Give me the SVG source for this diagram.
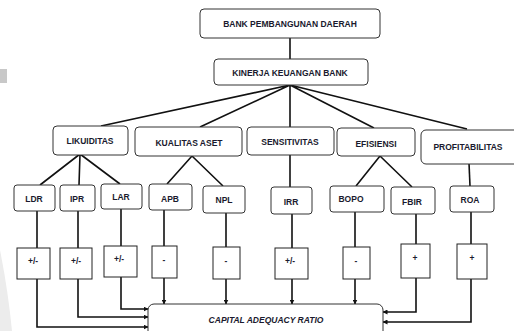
<svg xmlns="http://www.w3.org/2000/svg" width="514" height="331" viewBox="0 0 514 331">
<style>
.box{fill:#fff;stroke:#333;stroke-width:1}
.sq{fill:#fff;stroke:#222;stroke-width:1}
.t{font-family:"Liberation Sans",Arial,sans-serif;font-weight:bold;font-size:8.5px;fill:#1a1a2e;text-anchor:middle}
.ln{fill:none;stroke:#111;stroke-width:1.6}
.ar{fill:none;stroke:#111;stroke-width:1.6;marker-end:url(#ah)}
</style>
<defs>
<marker id="ah" viewBox="0 0 10 10" refX="9" refY="5" markerWidth="5" markerHeight="5" orient="auto" markerUnits="userSpaceOnUse">
<path d="M0,0 L10,5 L0,10 z" fill="#111"/>
</marker>
</defs>
<rect width="514" height="331" fill="#fff"/>
<rect x="0" y="69" width="7" height="14" fill="#c8c8c8"/>
<path d="M0,250 Q8,290 12,331 L0,331 Z" fill="#ececec"/>
<g id="connectors">
<path class="ln" d="M290,38 L290,59"/>
<path class="ln" d="M290,85 L101,126 M290,85 L200,127 M290,85 L290,127 M290,85 L374,128 M290,85 L467,129"/>
<path class="ln" d="M80,154 L40,185 M80,154 L79,185 M80,154 L120,184"/>
<path class="ln" d="M192,156 L167,184 M192,156 L223,186"/>
<path class="ln" d="M290,155 L290,187"/>
<path class="ln" d="M380,156 L356,186 M380,156 L412,187"/>
<path class="ln" d="M469,163 L470,186"/>
<path class="ln" d="M37,211 L37,248 M78,211 L78,248 M121,209 L121,246 M164,210 L164,246 M226,213 L226,247 M292,214 L292,248 M355,212 L355,247 M416,214 L416,244 M471,212 L471,244"/>
<path class="ar" d="M164,278 L164,304"/>
<path class="ar" d="M226,279 L226,304"/>
<path class="ar" d="M292,279 L292,304"/>
<path class="ar" d="M355,279 L355,304"/>
<path class="ar" d="M121,277 L121,309 L148,309"/>
<path class="ar" d="M78,279 L78,317 L148,317"/>
<path class="ar" d="M37,279 L37,327 L148,327"/>
<path class="ar" d="M416,278 L416,312 L383,312"/>
<path class="ar" d="M471,279 L471,322 L383,322"/>
</g>
<g id="bank"><rect class="box" x="200" y="9" width="180" height="29" rx="4"/><text class="t" x="290" y="27">BANK PEMBANGUNAN DAERAH</text></g>
<g id="kinerja"><rect class="box" x="214" y="59" width="154" height="26" rx="4"/><text class="t" x="290" y="76">KINERJA KEUANGAN BANK</text></g>
<g id="likuiditas"><rect class="box" x="53" y="126" width="75" height="29" rx="4"/><text class="t" x="90" y="144">LIKUIDITAS</text></g>
<g id="kualitas"><rect class="box" x="135" y="127" width="107" height="29" rx="4"/><text class="t" x="189" y="146">KUALITAS ASET</text></g>
<g id="sensitivitas"><rect class="box" x="247" y="127" width="87" height="28" rx="4"/><text class="t" x="290" y="145">SENSITIVITAS</text></g>
<g id="efisiensi"><rect class="box" x="337" y="128" width="78" height="28" rx="4"/><text class="t" x="376" y="147">EFISIENSI</text></g>
<g id="profitabilitas"><rect class="box" x="421" y="130" width="100" height="34" rx="5"/><text class="t" x="468" y="150">PROFITABILITAS</text></g>
<g id="ldr"><rect class="box" x="14" y="185" width="41" height="26" rx="3"/><text class="t" x="34" y="202">LDR</text></g>
<g id="ipr"><rect class="box" x="60" y="185" width="35" height="26" rx="3"/><text class="t" x="77" y="202">IPR</text></g>
<g id="lar"><rect class="box" x="101" y="184" width="41" height="25" rx="3"/><text class="t" x="121" y="200">LAR</text></g>
<g id="apb"><rect class="box" x="149" y="184" width="43" height="26" rx="3"/><text class="t" x="170" y="202">APB</text></g>
<g id="npl"><rect class="box" x="203" y="186" width="42" height="27" rx="3"/><text class="t" x="224" y="203">NPL</text></g>
<g id="irr"><rect class="box" x="271" y="187" width="41" height="27" rx="3"/><text class="t" x="291" y="205">IRR</text></g>
<g id="bopo"><rect class="box" x="330" y="186" width="54" height="26" rx="3"/><text class="t" x="351" y="202">BOPO</text></g>
<g id="fbir"><rect class="box" x="391" y="187" width="44" height="27" rx="3"/><text class="t" x="412" y="205">FBIR</text></g>
<g id="roa"><rect class="box" x="450" y="186" width="44" height="26" rx="3"/><text class="t" x="470" y="203">ROA</text></g>
<g id="s-ldr"><rect class="sq" x="17" y="248" width="33" height="31"/><text class="t" x="33" y="264">+/-</text></g>
<g id="s-ipr"><rect class="sq" x="60" y="248" width="32" height="31"/><text class="t" x="76" y="264">+/-</text></g>
<g id="s-lar"><rect class="sq" x="104" y="246" width="33" height="31"/><text class="t" x="119" y="262">+/-</text></g>
<g id="s-apb"><rect class="sq" x="152" y="246" width="25" height="32"/><text class="t" x="164" y="263">-</text></g>
<g id="s-npl"><rect class="sq" x="213" y="247" width="27" height="32"/><text class="t" x="226" y="264">-</text></g>
<g id="s-irr"><rect class="sq" x="275" y="248" width="33" height="31"/><text class="t" x="290" y="264">+/-</text></g>
<g id="s-bopo"><rect class="sq" x="343" y="247" width="27" height="32"/><text class="t" x="356" y="264">-</text></g>
<g id="s-fbir"><rect class="sq" x="401" y="244" width="29" height="34"/><text class="t" x="415" y="261">+</text></g>
<g id="s-roa"><rect class="sq" x="457" y="244" width="30" height="35"/><text class="t" x="472" y="261">+</text></g>
<g id="car"><rect class="box" x="148" y="304" width="235" height="40" rx="6"/><text class="t" x="266" y="323" font-style="italic">CAPITAL ADEQUACY RATIO</text></g>
</svg>
